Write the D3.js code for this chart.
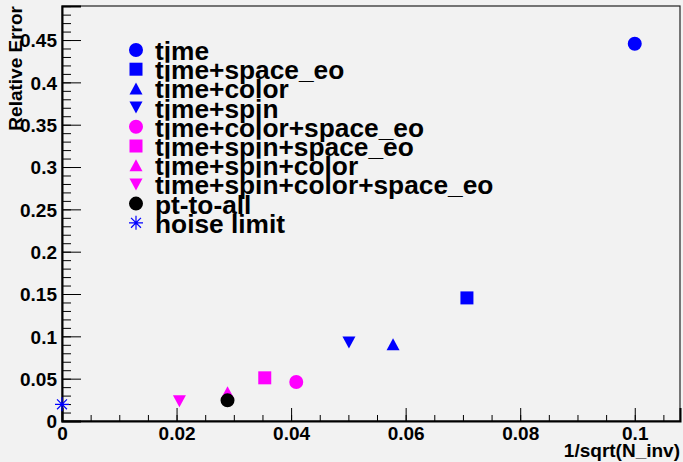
<!doctype html>
<html lang="en">
<head>
<meta charset="utf-8">
<title>Relative Error vs 1/sqrt(N_inv)</title>
<script src="https://cdn.jsdelivr.net/npm/d3@7"></script>
<style>
  body { margin: 0; background: #f2f2f2; }
  text { font-family: "Liberation Sans", Arial, sans-serif; font-weight: bold; fill: #000; }
</style>
</head>
<body>
<script>
// series, in legend order
var names = ["time", "time+space_eo", "time+color", "time+spin", "time+color+space_eo",
             "time+spin+space_eo", "time+spin+color", "time+spin+color+space_eo",
             "pt-to-all", "noise limit"];
var xValues = [0.1, 0.0707, 0.0578, 0.0501, 0.0409, 0.0354, 0.0289, 0.0205, 0.0289, 0];
var yValues = [0.4456, 0.1454, 0.0907, 0.0927, 0.0461, 0.0510, 0.0340, 0.0233, 0.0244, 0.0197];
var colors = ["#0000ff", "#0000ff", "#0000ff", "#0000ff", "#ff00ff",
              "#ff00ff", "#ff00ff", "#ff00ff", "#000000", "#0000ff"];
var shapes = ["circle", "square", "up", "down", "circle", "square", "up", "down", "circle", "star"];

var xTicks = [0, 0.02, 0.04, 0.06, 0.08, 0.1];
var yTicks = [0, 0.05, 0.1, 0.15, 0.2, 0.25, 0.3, 0.35, 0.4, 0.45];

var W = 683, H = 462;
var frameL = 62, frameR = 680, frameT = 6, frameB = 421;

var svg = d3.select("body").append("svg")
    .attr("width", W).attr("height", H);

svg.append("rect").attr("width", W).attr("height", H).attr("fill", "#f2f2f2");

var x = d3.scaleLinear().domain([0, 0.1079]).range([frameL, frameR]);
var y = d3.scaleLinear().domain([0, 0.4902]).range([frameB, frameT]);

// frame
svg.append("rect")
    .attr("x", frameL).attr("y", frameT)
    .attr("width", frameR - frameL).attr("height", frameB - frameT)
    .attr("fill", "none").attr("stroke", "#222").attr("stroke-width", 1.2);

function fmt(d) { return d === 0 ? "0" : String(+d.toFixed(3)); }

// x axis, minor then major
svg.append("g").attr("transform", "translate(0," + frameB + ")")
    .call(d3.axisBottom(x).tickValues(d3.range(0, 0.1079, 0.005)).tickSize(-6).tickFormat(""))
    .call(function(g){ g.select(".domain").remove(); });
var xa = svg.append("g").attr("transform", "translate(0," + frameB + ")")
    .call(d3.axisBottom(x).tickValues(xTicks).tickSize(-13).tickFormat(fmt));
xa.select(".domain").attr("stroke-width", 2);
xa.selectAll("text").attr("font-size", 19).attr("y", 19).attr("dy", 0)
    .style("font-family", "Liberation Sans").style("font-weight", "bold");

// y axis
svg.append("g").attr("transform", "translate(" + frameL + ",0)")
    .call(d3.axisLeft(y).tickValues(d3.range(0, 0.4902, 0.01)).tickSize(-9).tickFormat(""))
    .call(function(g){ g.select(".domain").remove(); });
var ya = svg.append("g").attr("transform", "translate(" + frameL + ",0)")
    .call(d3.axisLeft(y).tickValues(yTicks).tickSize(-19).tickFormat(fmt));
ya.select(".domain").attr("stroke-width", 2);
ya.selectAll("text").attr("font-size", 19).attr("x", -5).attr("dy", "0.36em")
    .style("font-family", "Liberation Sans").style("font-weight", "bold");
svg.selectAll(".tick line").attr("stroke", "#000");

// axis titles
svg.append("text")
    .attr("x", frameR).attr("y", 457)
    .attr("text-anchor", "end").attr("font-size", 19)
    .text("1/sqrt(N_inv)");
svg.append("text")
    .attr("transform", "translate(22," + frameT + ") rotate(-90)")
    .attr("text-anchor", "end").attr("font-size", 19)
    .text("Relative Error");

// markers
function markerPath(shape) {
    if (shape === "circle") return d3.symbol(d3.symbolCircle, 154)();
    if (shape === "square") return d3.symbol(d3.symbolSquare, 169)();
    if (shape === "up" || shape === "down") {
        var s = 13, h = 12;
        var sign = shape === "up" ? 1 : -1;
        return "M0," + (-sign * h / 2) + "L" + (s / 2) + "," + (sign * h / 2) +
               "L" + (-s / 2) + "," + (sign * h / 2) + "Z";
    }
    // asterisk
    var r = 7, dd = r * Math.SQRT1_2;
    return "M" + (-r) + ",0L" + r + ",0M0," + (-r) + "L0," + r +
           "M" + (-dd) + "," + (-dd) + "L" + dd + "," + dd +
           "M" + (-dd) + "," + dd + "L" + dd + "," + (-dd);
}

function drawMarker(g, shape, color) {
    var p = g.append("path").attr("d", markerPath(shape));
    if (shape === "star") p.attr("fill", "none").attr("stroke", color).attr("stroke-width", 1.2);
    else p.attr("fill", color);
}

var points = svg.append("g");
names.forEach(function(n, i) {
    var g = points.append("g")
        .attr("transform", "translate(" + x(xValues[i]) + "," + y(yValues[i]) + ")");
    drawMarker(g, shapes[i], colors[i]);
});

// legend
var legend = svg.append("g");
names.forEach(function(n, i) {
    var cy = 50 + i * 19.2;
    var g = legend.append("g").attr("transform", "translate(136," + cy + ")");
    drawMarker(g, shapes[i], colors[i]);
    legend.append("text")
        .attr("x", 155).attr("y", cy + 10)
        .attr("font-size", 26.3)
        .text(n);
});
</script>
</body>
</html>
